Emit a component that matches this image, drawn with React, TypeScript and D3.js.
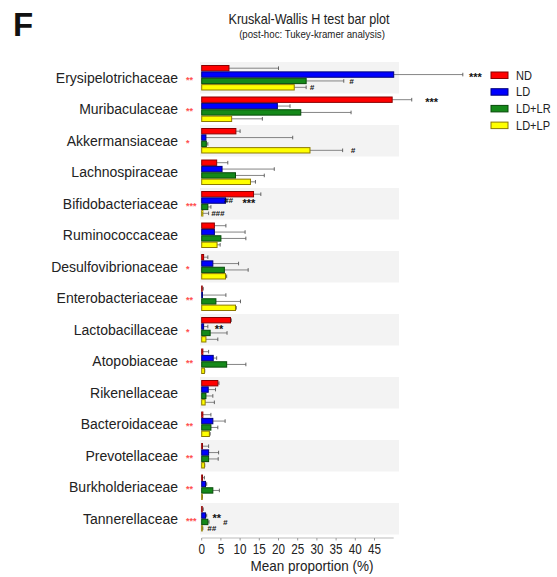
import React from 'react';
import * as d3 from 'd3';

const categories = [
  'Erysipelotrichaceae', 'Muribaculaceae', 'Akkermansiaceae', 'Lachnospiraceae',
  'Bifidobacteriaceae', 'Ruminococcaceae', 'Desulfovibrionaceae', 'Enterobacteriaceae',
  'Lactobacillaceae', 'Atopobiaceae', 'Rikenellaceae', 'Bacteroidaceae',
  'Prevotellaceae', 'Burkholderiaceae', 'Tannerellaceae',
];
const kwSignificance = ['**', '**', '*', '', '***', '', '*', '**', '*', '**', '', '**', '**', '**', '***'];
const groups = ['ND', 'LD', 'LD+LR', 'LD+LP'];

const ndMean = [7.1, 49.6, 8.9, 3.9, 13.5, 3.3, 0.5, 0.1, 7.5, 0.3, 4.2, 0.3, 0.2, 0.2, 0.1];
const ndSd = [12.9, 5.1, 1.1, 2.9, 1.9, 3.0, 1.1, 0.3, 0.2, 1.5, 0.3, 2.1, 1.6, 0.5, 0.3];
const ldMean = [50.0, 19.7, 1.1, 5.3, 6.2, 3.3, 2.9, 0.2, 0.5, 3.0, 1.7, 2.9, 1.8, 1.0, 1.0];
const ldSd = [18.0, 3.3, 22.6, 13.6, 0.3, 8.0, 6.7, 6.1, 1.1, 0.9, 1.9, 3.2, 2.6, 0.3, 0.3];
const lrMean = [27.2, 25.8, 1.2, 8.8, 1.6, 5.0, 5.9, 3.7, 2.2, 6.5, 1.1, 2.4, 1.8, 2.9, 1.6];
const lrSd = [9.8, 13.1, 0.4, 7.5, 0.8, 6.5, 6.2, 6.4, 4.4, 5.0, 1.8, 1.8, 2.5, 1.7, 0.3];
const lpMean = [24.1, 7.8, 28.2, 12.7, 0.3, 4.0, 6.2, 8.8, 1.1, 0.7, 0.9, 2.0, 0.7, 0.1, 0.1];
const lpSd = [3.1, 8.0, 8.5, 1.3, 1.5, 0.8, 0.3, 0.2, 3.1, 0.1, 2.4, 0.2, 0.1, 0.1, 0.2];

const xTicks = [0, 5, 10, 15, 20, 25, 30, 35, 40, 45];

// post-hoc markers: category, group row, text, centre position in data units
const postHocCats = ['Erysipelotrichaceae', 'Erysipelotrichaceae', 'Erysipelotrichaceae', 'Muribaculaceae', 'Akkermansiaceae', 'Bifidobacteriaceae', 'Bifidobacteriaceae', 'Bifidobacteriaceae', 'Lactobacillaceae', 'Tannerellaceae', 'Tannerellaceae', 'Tannerellaceae'];
const postHocGroups = ['LD', 'LD+LR', 'LD+LP', 'ND', 'LD+LP', 'LD', 'LD', 'LD+LP', 'LD', 'LD', 'LD+LR', 'LD+LP'];
const postHocTexts = ['***', '#', '#', '***', '#', '##', '***', '###', '**', '**', '#', '##'];
const postHocAt = [71.3, 39.0, 28.7, 59.9, 39.4, 7.0, 12.3, 4.2, 4.5, 3.9, 6.1, 2.6];

const fills = ['#ff0000', '#0000ff', '#15891a', '#ffff00'];
const strokes = ['#8a0000', '#00007a', '#064a08', '#8c7a00'];

const FONT = "'Liberation Sans', Arial, sans-serif";

export default function App() {
  const means = [ndMean, ldMean, lrMean, lpMean];
  const sds = [ndSd, ldSd, lrSd, lpSd];
  const x = d3.scaleLinear().domain([0, 50]).range([201.7, 393.7]);
  const y = d3.scaleBand<string>().domain(categories).range([62, 534.5]);
  const yi = d3.scaleBand<string>().domain(groups).range([3, y.bandwidth() - 3]);
  const color = d3.scaleOrdinal<string, string>().domain(groups).range(fills);
  const strokeC = d3.scaleOrdinal<string, string>().domain(groups).range(strokes);
  const axisY = 538;

  return (
    <svg width={557} height={577} style={{ position: 'absolute', left: 0, top: 0, background: '#fff' }} fontFamily={FONT}>
      <rect x={0} y={0} width={557} height={577} fill="#fff" />
      <text x={13} y={36} fontSize={33} fontWeight="bold" fill="#111">F</text>
      <g transform="translate(309,24) scale(0.9,1)">
        <text x={0} y={0} fontSize={14} textAnchor="middle" fill="#222">Kruskal-Wallis H test bar plot</text>
      </g>
      <g transform="translate(312,38) scale(0.88,1)">
        <text x={0} y={0} fontSize={11} textAnchor="middle" fill="#222">(post-hoc: Tukey-kramer analysis)</text>
      </g>

      {/* alternating bands */}
      {categories.map((c, i) => i % 2 === 0 ? (
        <rect key={'b' + c} x={200} y={y(c)} width={199} height={y.bandwidth()} fill="#f3f3f3" />
      ) : null)}

      {/* category labels */}
      {categories.map((c, i) => (
        <g key={'l' + c}>
          <text x={178} y={(y(c) as number) + y.bandwidth() / 2} dy="0.35em" fontSize={14} textAnchor="end" fill="#222">{c}</text>
          {kwSignificance[i] ? (
            <text x={186} y={(y(c) as number) + y.bandwidth() / 2} dy="0.55em" fontSize={9} fill="#ff5050" fontWeight="bold">{kwSignificance[i]}</text>
          ) : null}
        </g>
      ))}

      {/* bars and error bars */}
      {categories.map((c, i) => (
        <g key={'g' + c} transform={`translate(0,${y(c)})`}>
          {groups.map((g, k) => {
            const m = means[k][i];
            const e = m + sds[k][i];
            const by = yi(g) as number;
            const bh = yi.bandwidth();
            const cy = by + bh / 2;
            return (
              <g key={g}>
                <line x1={x(m)} x2={x(e)} y1={cy} y2={cy} stroke="#777" strokeWidth={0.9} />
                <line x1={x(e)} x2={x(e)} y1={cy - 1.8} y2={cy + 1.8} stroke="#555" strokeWidth={0.9} />
                <rect x={x(0)} y={by + 0.5} width={Math.max(0.5, x(m) - x(0))} height={bh - 1} fill={color(g)} stroke={strokeC(g)} strokeWidth={1} />
              </g>
            );
          })}
        </g>
      ))}

      {/* post-hoc markers */}
      {postHocTexts.map((t, j) => {
        const cy = (y(postHocCats[j]) as number) + (yi(postHocGroups[j]) as number) + yi.bandwidth() / 2;
        const isStar = t.indexOf('*') >= 0;
        return (
          <text key={'p' + j} x={x(postHocAt[j])} y={cy} dy={isStar ? '0.6em' : '0.35em'}
            fontSize={isStar ? 11 : 8} fontWeight="bold" textAnchor="middle" fill="#111"
            fontStyle={isStar ? 'normal' : 'italic'}>{t}</text>
        );
      })}

      {/* x axis */}
      <line x1={x(0)} x2={x(50)} y1={axisY} y2={axisY} stroke="#bbb" strokeWidth={1} />
      {xTicks.map(t => (
        <g key={'t' + t}>
          <line x1={x(t)} x2={x(t)} y1={axisY} y2={axisY + 2.5} stroke="#999" strokeWidth={1} />
          <g transform={`translate(${x(t)},554) scale(0.78,1)`}>
            <text x={0} y={0} fontSize={15} textAnchor="middle" fill="#222">{t}</text>
          </g>
        </g>
      ))}
      <g transform="translate(312,571) scale(0.9,1)">
        <text x={0} y={0} fontSize={15} textAnchor="middle" fill="#222">Mean proportion (%)</text>
      </g>

      {/* legend */}
      {groups.map((g, k) => (
        <g key={'lg' + g} transform={`translate(491,${75 + k * 16.7})`}>
          <rect x={0} y={-3} width={17} height={6.5} fill={color(g)} stroke={strokeC(g)} strokeWidth={1} />
          <g transform="translate(25,0) scale(0.85,1)">
            <text x={0} y={0} dy="0.35em" fontSize={13} fill="#222">{g}</text>
          </g>
        </g>
      ))}
    </svg>
  );
}
